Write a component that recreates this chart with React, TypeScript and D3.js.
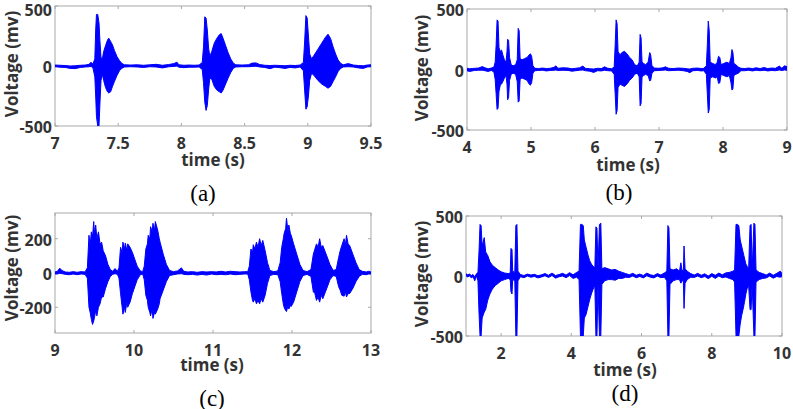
import React from 'react';
import * as d3 from 'd3';

// envelope of each trace: [time (s), upper (mv), lower (mv)]
const envA: number[][] = [
  [7.00, 8, -6], [7.04, 6, -10], [7.08, 4, -12], [7.12, 0, -20], [7.16, 2, -22], [7.20, 6, -12],
  [7.24, 8, -8], [7.27, 14, -6], [7.285, 32, -4], [7.30, 16, -14], [7.315, 60, -90],
  [7.322, 300, -250], [7.328, 430, -420], [7.338, 430, -500], [7.348, 360, -500],
  [7.356, 200, -300], [7.364, 70, -120], [7.375, 60, -70], [7.385, 120, -120], [7.40, 170, -180],
  [7.415, 215, -215], [7.425, 232, -225], [7.44, 205, -215], [7.455, 175, -170], [7.47, 130, -130],
  [7.49, 80, -80], [7.51, 45, -40], [7.53, 20, -18], [7.55, 10, -8], [7.60, 8, -6], [7.65, 10, -8],
  [7.70, 6, -12], [7.75, 10, -6], [7.80, 14, -8], [7.85, 6, -16], [7.90, 12, -6], [7.94, 20, -4],
  [7.965, 32, 0], [7.98, 10, -10], [8.02, 6, -14], [8.06, 8, -10], [8.10, 6, -10], [8.14, 8, -8],
  [8.165, 30, -30], [8.175, 160, -140], [8.185, 410, -300], [8.195, 400, -370], [8.205, 300, -330],
  [8.215, 150, -200], [8.225, 80, -100], [8.24, 120, -110], [8.26, 190, -170], [8.28, 230, -200],
  [8.30, 260, -215], [8.315, 270, -225], [8.33, 230, -200], [8.35, 170, -150], [8.37, 110, -100],
  [8.39, 60, -55], [8.41, 25, -20], [8.43, 10, -8], [8.48, 8, -6], [8.53, 10, -6], [8.56, 24, -4],
  [8.59, 26, -2], [8.62, 12, -8], [8.66, 6, -12], [8.70, 4, -22], [8.74, 6, -10], [8.78, 4, -14],
  [8.82, 2, -20], [8.86, 6, -12], [8.90, 4, -16], [8.94, 8, -8], [8.965, 30, -40], [8.975, 200, -200],
  [8.985, 420, -360], [8.995, 400, -340], [9.005, 250, -250], [9.015, 100, -120], [9.03, 60, -60],
  [9.05, 90, -80], [9.08, 140, -120], [9.11, 190, -150], [9.14, 240, -170], [9.16, 265, -185],
  [9.18, 230, -170], [9.20, 160, -130], [9.22, 100, -90], [9.24, 50, -45], [9.26, 22, -20],
  [9.28, 10, -8], [9.32, 20, -6], [9.36, 8, -8], [9.40, 4, -16], [9.44, 2, -20], [9.47, 8, -8],
  [9.50, 10, -6],
];

const envB: number[][] = [
  [4.00, 10, -10], [4.04, 6, -16], [4.08, 8, -12], [4.12, 10, -8], [4.18, 12, -6], [4.24, 24, -6],
  [4.28, 14, -10], [4.33, 6, -16], [4.38, 12, -8], [4.42, 20, -20], [4.44, 60, -80],
  [4.455, 200, -200], [4.47, 410, -330], [4.485, 400, -320], [4.50, 180, -180], [4.52, 150, -130],
  [4.54, 160, -120], [4.56, 120, -100], [4.585, 80, -70], [4.61, 60, -50], [4.625, 150, -120],
  [4.635, 250, -250], [4.65, 240, -230], [4.665, 100, -90], [4.69, 40, -40], [4.72, 30, -30],
  [4.76, 40, -40], [4.785, 80, -100], [4.80, 340, -270], [4.815, 320, -260], [4.83, 90, -80],
  [4.86, 80, -70], [4.90, 90, -80], [4.94, 100, -90], [4.97, 120, -120], [4.99, 130, -130],
  [5.01, 110, -110], [5.03, 30, -30], [5.06, 10, -10], [5.12, 8, -8], [5.18, 12, -6], [5.24, 8, -12],
  [5.30, 10, -8], [5.36, 18, -6], [5.39, 30, -4], [5.42, 10, -8], [5.50, 14, -6], [5.58, 12, -8],
  [5.64, 6, -14], [5.70, 10, -10], [5.76, 14, -6], [5.81, 28, -4], [5.85, 10, -10], [5.92, 6, -14],
  [5.98, 4, -24], [6.04, 10, -10], [6.10, 8, -12], [6.15, 22, -6], [6.20, 10, -10], [6.26, 6, -12],
  [6.30, 20, -40], [6.315, 200, -200], [6.33, 410, -370], [6.345, 380, -340], [6.36, 150, -150],
  [6.39, 120, -120], [6.42, 140, -130], [6.46, 150, -140], [6.50, 130, -120], [6.54, 100, -90],
  [6.58, 80, -70], [6.62, 40, -40], [6.66, 30, -30], [6.69, 60, -60], [6.705, 290, -300],
  [6.72, 260, -280], [6.735, 60, -60], [6.76, 50, -50], [6.79, 40, -40], [6.83, 60, -50],
  [6.855, 140, -95], [6.87, 120, -90], [6.89, 30, -30], [6.93, 12, -10], [7.00, 10, -8],
  [7.06, 14, -6], [7.10, 22, -4], [7.15, 10, -10], [7.22, 8, -8], [7.30, 12, -6], [7.38, 10, -10],
  [7.44, 6, -16], [7.48, 4, -26], [7.53, 10, -10], [7.60, 12, -8], [7.66, 8, -12], [7.70, 10, -10],
  [7.74, 30, -40], [7.755, 200, -200], [7.77, 400, -360], [7.785, 320, -330], [7.80, 60, -70],
  [7.84, 50, -60], [7.88, 40, -70], [7.91, 60, -60], [7.93, 110, -115], [7.95, 100, -110],
  [7.97, 40, -40], [8.01, 50, -50], [8.06, 60, -60], [8.10, 50, -50], [8.125, 100, -110],
  [8.14, 165, -170], [8.155, 140, -160], [8.17, 50, -50], [8.20, 40, -40], [8.24, 20, -30],
  [8.28, 10, -10], [8.34, 8, -10], [8.40, 12, -6], [8.46, 8, -12], [8.52, 14, -6], [8.58, 8, -10],
  [8.64, 16, -6], [8.70, 8, -12], [8.76, 12, -8], [8.82, 10, -10], [8.88, 28, -4], [8.92, 10, -8],
  [8.96, 30, -4], [9.00, 24, -6],
];

const envC: number[][] = [
  [9.00, 6, -6], [9.03, 10, -6], [9.06, 28, -2], [9.09, 14, -4], [9.13, 6, -8], [9.18, 4, -10],
  [9.23, 8, -6], [9.28, 4, -10], [9.33, 8, -6], [9.38, 6, -8], [9.41, 30, -30], [9.43, 220, -200],
  [9.445, 160, -230], [9.46, 240, -270], [9.475, 210, -300], [9.49, 300, -280], [9.50, 230, -260],
  [9.515, 280, -220], [9.53, 200, -250], [9.55, 240, -200], [9.57, 170, -180], [9.59, 180, -140],
  [9.61, 130, -140], [9.64, 100, -90], [9.67, 50, -50], [9.70, 20, -20], [9.73, 10, -8],
  [9.76, 26, -4], [9.79, 10, -8], [9.81, 30, -30], [9.83, 150, -120], [9.85, 120, -200],
  [9.86, 180, -240], [9.88, 140, -200], [9.89, 175, -230], [9.91, 130, -170], [9.92, 170, -200],
  [9.95, 150, -170], [9.98, 120, -120], [10.01, 80, -80], [10.04, 40, -40], [10.08, 12, -10],
  [10.11, 8, -6], [10.13, 40, -40], [10.15, 140, -130], [10.17, 170, -160], [10.18, 220, -200],
  [10.20, 200, -230], [10.21, 270, -250], [10.23, 240, -210], [10.24, 290, -265], [10.26, 250, -230],
  [10.27, 300, -240], [10.30, 250, -210], [10.32, 200, -180], [10.33, 180, -150], [10.37, 110, -100],
  [10.41, 50, -50], [10.45, 15, -15], [10.50, 8, -10], [10.55, 12, -6], [10.60, 30, -4],
  [10.63, 10, -8], [10.68, 6, -10], [10.74, 8, -8], [10.80, 4, -12], [10.86, 8, -8],
  [10.92, 6, -12], [10.98, 8, -6], [11.04, 6, -10], [11.10, 10, -8], [11.16, 6, -10],
  [11.22, 10, -6], [11.28, 8, -10], [11.34, 6, -8], [11.40, 8, -6], [11.44, 8, -6],
  [11.46, 40, -40], [11.48, 140, -110], [11.50, 120, -160], [11.51, 165, -170], [11.53, 140, -150],
  [11.55, 180, -180], [11.57, 150, -160], [11.59, 200, -180], [11.61, 160, -150], [11.63, 190, -170],
  [11.66, 130, -130], [11.69, 60, -60], [11.72, 15, -15], [11.77, 8, -8], [11.82, 12, -10],
  [11.85, 60, -50], [11.87, 150, -120], [11.89, 200, -180], [11.90, 230, -200], [11.92, 260, -220],
  [11.93, 320, -225], [11.95, 240, -190], [11.96, 280, -210], [11.98, 230, -190], [11.99, 220, -195],
  [12.02, 170, -170], [12.06, 110, -110], [12.10, 50, -50], [12.14, 15, -15], [12.19, 8, -8],
  [12.24, 20, -20], [12.27, 110, -110], [12.29, 140, -120], [12.31, 170, -160], [12.33, 150, -140],
  [12.35, 200, -170], [12.37, 150, -130], [12.39, 160, -150], [12.44, 100, -90], [12.48, 50, -40],
  [12.52, 15, -15], [12.56, 20, -20], [12.59, 90, -80], [12.61, 130, -100], [12.63, 160, -130],
  [12.66, 200, -135], [12.675, 160, -110], [12.69, 220, -140], [12.71, 170, -120], [12.73, 160, -120],
  [12.77, 110, -90], [12.81, 60, -50], [12.85, 20, -20], [12.89, 10, -8], [12.94, 6, -10],
  [12.97, 10, -6], [13.00, 6, -6],
];

const envD: number[][] = [
  [1.00, 18, 2], [1.05, 10, -8], [1.10, 16, 0], [1.15, 4, -14], [1.20, 12, -6],
  [1.25, -8, -40], [1.30, 20, 0], [1.34, 30, -40], [1.37, 200, -300], [1.40, 430, -500],
  [1.43, 420, -500], [1.46, 250, -350], [1.52, 320, -300], [1.56, 200, -280], [1.62, 170, -200],
  [1.68, 120, -150], [1.75, 90, -110], [1.83, 70, -80], [1.92, 50, -60], [2.00, 35, -40],
  [2.10, 25, -30], [2.20, 20, -20], [2.26, 25, -30], [2.28, 230, -130], [2.31, 220, -150],
  [2.33, 40, -30], [2.39, 30, -40], [2.42, 420, -500], [2.45, 430, -500], [2.48, 40, -40],
  [2.55, 12, -6], [2.65, 4, -14], [2.75, 16, 0], [2.85, 8, -10], [2.95, 14, -4],
  [3.05, 2, -16], [3.15, 10, -8], [3.25, 20, 2], [3.35, 6, -12], [3.45, 24, 4],
  [3.55, 4, -18], [3.65, 12, -6], [3.75, 22, 0], [3.85, 8, -14], [3.95, 28, 4],
  [4.05, 10, -20], [4.15, 30, -10], [4.22, 40, -30], [4.26, 430, -500], [4.30, 430, -500],
  [4.34, 420, -500], [4.37, 300, -350], [4.42, 240, -320], [4.47, 180, -260], [4.52, 130, -200],
  [4.57, 100, -150], [4.62, 80, -110], [4.67, 70, -80], [4.70, 410, -500], [4.73, 400, -500],
  [4.76, 60, -60], [4.80, 430, -500], [4.84, 440, -500], [4.87, 60, -70], [4.95, 70, -40],
  [5.05, 60, -30], [5.15, 50, -30], [5.25, 55, -35], [5.35, 40, -20], [5.45, 30, -20],
  [5.55, 20, -10], [5.65, 10, -12], [5.75, 22, 0], [5.85, 6, -14], [5.95, 16, -4],
  [6.05, 4, -16], [6.15, 24, 2], [6.25, 10, -10], [6.35, 4, -16], [6.45, 20, 0],
  [6.55, 8, -14], [6.65, 26, -10], [6.72, 40, -40], [6.75, 420, -500], [6.78, 400, -500],
  [6.81, 60, -70], [6.90, 50, -40], [7.00, 60, -30], [7.08, 40, -30], [7.12, 110, -60],
  [7.15, 50, -40], [7.19, 40, -40], [7.21, 250, -270], [7.24, 60, -60], [7.30, 40, -30],
  [7.40, 20, -10], [7.50, 8, -12], [7.60, 22, 0], [7.70, 6, -14], [7.80, 18, -4],
  [7.90, 0, -22], [8.00, 20, -2], [8.10, 6, -20], [8.20, 24, 0], [8.30, 10, -14],
  [8.40, 26, -8], [8.50, 30, -20], [8.60, 40, -30], [8.65, 50, -50], [8.69, 430, -500],
  [8.73, 430, -500], [8.77, 420, -500], [8.81, 300, -400], [8.85, 250, -330], [8.89, 200, -280],
  [8.93, 150, -220], [8.97, 100, -150], [9.01, 80, -100], [9.05, 60, -80], [9.09, 420, -280],
  [9.12, 430, -280], [9.15, 50, -60], [9.20, 440, -500], [9.23, 430, -500], [9.26, 50, -50],
  [9.35, 30, -30], [9.45, 20, -20], [9.55, 8, -16], [9.65, 24, 0], [9.75, 6, -18],
  [9.85, 22, -4], [9.95, 40, -10], [10.00, 20, -4],
];

const xTicksA = [7, 7.5, 8, 8.5, 9, 9.5];
const xTicksB = [4, 5, 6, 7, 8, 9];
const xTicksC = [9, 10, 11, 12, 13];
const xTicksD = [2, 4, 6, 8, 10];
const yTicks500 = [-500, 0, 500];
const yTicksC = [-200, 0, 200];

const panels = [
  { id: 'a', env: envA, xd: [7, 9.5], yd: [-500, 500], xt: xTicksA, yt: yTicks500,
    box: [55, 371, 6, 126], ylab: [11, 64], xlab: [213, 159], cap: [203, 193] },
  { id: 'b', env: envB, xd: [4, 9], yd: [-500, 500], xt: xTicksB, yt: yTicks500,
    box: [467, 787, 9, 130], ylab: [421, 68], xlab: [628, 164], cap: [619, 192] },
  { id: 'c', env: envC, xd: [9, 13], yd: [-350, 350], xt: xTicksC, yt: yTicksC,
    box: [55, 371, 213, 333], ylab: [11, 268], xlab: [212, 364], cap: [212, 398] },
  { id: 'd', env: envD, xd: [1, 10], yd: [-500, 500], xt: xTicksD, yt: yTicks500,
    box: [466, 782, 216, 336], ylab: [421, 274], xlab: [625, 369], cap: [625, 393] },
];

const tickFont = "'Open Sans', sans-serif";
const grey = '#333';
const boxColor = '#a8a8a8';

function Panel({ p }: { p: any }) {
  const [x0, x1, y0, y1] = p.box;
  const x = d3.scaleLinear().domain(p.xd).range([x0, x1]);
  const y = d3.scaleLinear().domain(p.yd).range([y1, y0]);
  const area = d3.area<number[]>()
    .x(d => x(d[0]))
    .y0(d => y(d[2]))
    .y1(d => y(d[1]));
  const clipId = 'clip-' + p.id;
  return (
    <g>
      <defs>
        <clipPath id={clipId}>
          <rect x={x0} y={y0} width={x1 - x0} height={y1 - y0} />
        </clipPath>
      </defs>
      <rect x={x0} y={y0} width={x1 - x0} height={y1 - y0} fill="white" stroke={boxColor} strokeWidth={1} />
      {p.xt.map((t: number) => (
        <g key={'x' + t}>
          <line x1={x(t)} x2={x(t)} y1={y1} y2={y1 - 3} stroke={boxColor} />
          <line x1={x(t)} x2={x(t)} y1={y0} y2={y0 + 3} stroke={boxColor} />
          <text x={x(t)} y={y1 + 17} textAnchor="middle" dominantBaseline="central"
            fontFamily={tickFont} fontWeight={700} fontSize={16} fill={grey}>{t}</text>
        </g>
      ))}
      {p.yt.map((t: number) => (
        <g key={'y' + t}>
          <line x1={x0} x2={x0 + 3} y1={y(t)} y2={y(t)} stroke={boxColor} />
          <line x1={x1} x2={x1 - 3} y1={y(t)} y2={y(t)} stroke={boxColor} />
          <text x={x0 - 3} y={Math.max(y(t) + 1, 10)} textAnchor="end" dominantBaseline="central"
            fontFamily={tickFont} fontWeight={700} fontSize={16} fill={grey}>{t}</text>
        </g>
      ))}
      <path d={area(p.env) || ''} fill="#0000ff" stroke="#0000ff" strokeWidth={1}
        strokeLinejoin="round" clipPath={`url(#${clipId})`} />
      <text transform={`translate(${p.ylab[0]},${p.ylab[1]}) rotate(-90)`} textAnchor="middle"
        dominantBaseline="central" fontFamily={tickFont} fontWeight={700} fontSize={17} fill={grey}>
        Voltage (mv)
      </text>
      <text x={p.xlab[0]} y={p.xlab[1]} textAnchor="middle" dominantBaseline="central"
        fontFamily={tickFont} fontWeight={700} fontSize={17} fill={grey}>time (s)</text>
      <text x={p.cap[0]} y={p.cap[1]} textAnchor="middle" dominantBaseline="central"
        fontFamily="'Liberation Serif', 'Times New Roman', serif" fontSize={23} fill="#000">
        ({p.id})
      </text>
    </g>
  );
}

export default function App() {
  return (
    <svg width={793} height={409} style={{ position: 'absolute', left: 0, top: 0, background: 'white' }}>
      <rect width={793} height={409} fill="white" />
      {panels.map(p => <Panel key={p.id} p={p} />)}
    </svg>
  );
}
